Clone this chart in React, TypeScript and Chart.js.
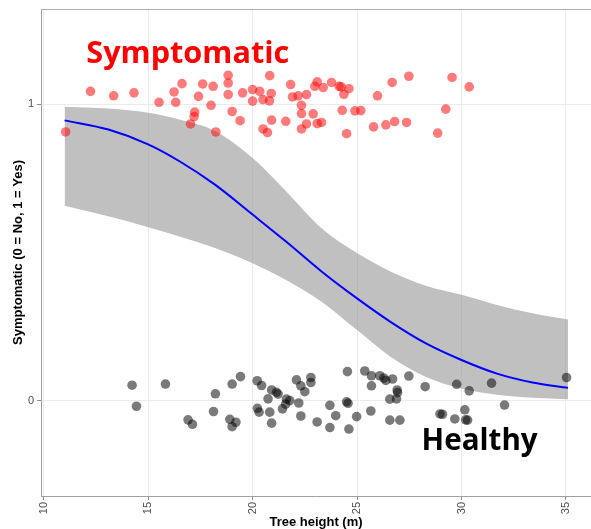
import React, { useEffect, useRef } from "react";
import { Chart, registerables } from "chart.js";

Chart.register(...registerables);

// ---- axis settings ----
const X_TICKS = [10, 15, 20, 25, 30, 35];
const Y_TICKS = [0, 1];
const X_MIN = 9.87;
const X_MAX = 36.2;
const Y_MIN = -0.322;
const Y_MAX = 1.322;

// ---- symptomatic trees (jittered around 1) ----
const SYMPTOMATIC_X = [
  11.05, 12.24, 13.35, 14.32, 15.52, 16.24, 16.32, 16.62, 17.23, 17.2,
  17.03, 17.41, 17.61, 18.11, 18.01, 18.24, 18.83, 18.83, 18.83, 19.02,
  19.4, 19.52, 20.0, 20.0, 20.34, 20.5, 20.82, 20.89, 20.81, 20.91,
  20.5, 20.71, 21.59, 21.82, 21.91, 22.18, 22.34, 22.34, 22.34, 22.58,
  22.58, 22.9, 22.98, 23.09, 23.09, 23.3, 23.38, 23.78, 24.14, 24.24,
  24.37, 24.61, 24.29, 24.9, 25.18, 24.5, 25.98, 26.68, 27.48, 25.79,
  26.38, 26.8, 27.37, 28.86, 29.25, 29.55, 30.37,
];
const SYMPTOMATIC_Y = [
  0.907, 1.044, 1.029, 1.039, 1.007, 1.042, 1.007, 1.07, 0.974, 0.959,
  0.934, 1.027, 1.069, 1.061, 0.997, 0.907, 1.098, 1.072, 1.033, 0.976,
  0.945, 1.039, 1.05, 1.011, 1.044, 1.016, 1.097, 1.037, 1.012, 0.947,
  0.917, 0.905, 0.943, 1.067, 1.025, 1.029, 0.997, 0.969, 0.917, 1.033,
  0.934, 0.968, 1.061, 1.076, 0.935, 0.939, 1.057, 1.074, 1.061, 1.059,
  1.034, 1.053, 0.98, 0.978, 0.979, 0.901, 1.029, 1.074, 1.095, 0.924,
  0.931, 0.942, 0.939, 0.903, 0.984, 1.091, 1.059,
];

// ---- healthy trees (jittered around 0) ----
const HEALTHY_X = [
  14.23, 14.44, 15.83, 16.91, 17.12, 18.13, 18.22, 18.91, 19.2, 19.02,
  19.02, 19.42, 20.22, 20.43, 20.23, 20.31, 20.74, 20.82, 20.91, 20.91,
  21.14, 21.22, 21.43, 21.58, 21.78, 21.62, 22.1, 22.31, 22.5, 22.21,
  22.31, 22.79, 22.79, 23.09, 23.7, 23.98, 23.7, 24.54, 24.5, 24.57,
  24.61, 24.98, 25.37, 25.69, 25.69, 25.66, 26.09, 26.28, 26.38, 26.7,
  26.92, 26.94, 26.57, 26.89, 26.57, 27.05, 27.48, 28.26, 28.97, 29.09,
  29.77, 30.37, 30.16, 29.68, 30.2, 30.29, 31.44, 32.06, 35.03,
];
const HEALTHY_Y = [
  0.052, -0.019, 0.056, -0.065, -0.08, -0.037, 0.023, -0.063, -0.073, -0.088,
  0.056, 0.081, 0.067, 0.051, -0.026, -0.039, 0.006, -0.039, -0.076, 0.036,
  0.028, 0.022, -0.028, -0.012, 0.0, 0.005, 0.07, 0.05, 0.03, -0.008,
  -0.052, 0.078, 0.061, -0.072, -0.016, -0.051, -0.091, 0.098, -0.004, -0.009,
  -0.096, -0.054, 0.1, 0.084, 0.05, -0.035, 0.084, 0.076, 0.068, 0.073,
  0.036, 0.027, 0.005, 0.006, -0.066, -0.066, 0.083, 0.047, -0.045, -0.046,
  0.055, 0.033, -0.031, -0.062, -0.065, -0.066, 0.059, -0.015, 0.078,
];

// ---- fitted logistic curve and confidence band ----
const FIT_X = [11, 13.1, 15, 16.5, 18.2, 20, 21.6, 23.3, 25, 26.6, 28.3, 30, 31.7, 33.4, 35.1];
const FIT_Y = [0.946, 0.915, 0.865, 0.808, 0.729, 0.628, 0.537, 0.436, 0.345, 0.266, 0.193, 0.137, 0.091, 0.061, 0.043];
const FIT_HI = [0.992, 0.986, 0.972, 0.949, 0.91, 0.819, 0.707, 0.582, 0.498, 0.436, 0.388, 0.357, 0.323, 0.295, 0.274];
const FIT_LO = [0.658, 0.622, 0.585, 0.554, 0.515, 0.464, 0.407, 0.334, 0.238, 0.148, 0.08, 0.041, 0.02, 0.01, 0.005];

// ---- texts ----
const X_TITLE = "Tree height (m)";
const Y_TITLE = "Symptomatic (0 = No, 1 = Yes)";
const LABEL_SYMPTOMATIC = { text: "Symptomatic", x: 12.04, y: 1.14, width: 9.72, color: "#ff0000" };
const LABEL_HEALTHY = { text: "Healthy", x: 28.09, y: -0.167, width: 5.56, color: "#000000" };

const AXIS_FONT = "'Liberation Sans', Arial, Helvetica, sans-serif";
const ANNOT_FONT = "'Open Sans', 'Noto Sans', sans-serif";

const pts = (xs: number[], ys: number[]) => xs.map((x, i) => ({ x, y: ys[i] }));

export default function App() {
  const ref = useRef<HTMLCanvasElement>(null);

  useEffect(() => {
    const canvas = ref.current;
    if (!canvas) return;

    const textPlugin = {
      id: "textPlugin",
      afterDraw(chart: any) {
        const { ctx, chartArea, scales } = chart;
        const xs = scales.x;
        const ys = scales.y;
        ctx.save();
        // top panel border
        ctx.strokeStyle = "#b0b0b0";
        ctx.lineWidth = 1;
        ctx.beginPath();
        ctx.moveTo(chartArea.left, Math.round(chartArea.top) + 0.5);
        ctx.lineTo(chartArea.right, Math.round(chartArea.top) + 0.5);
        ctx.stroke();

        // axis titles
        ctx.fillStyle = "#000000";
        ctx.font = `bold 13px ${AXIS_FONT}`;
        ctx.textAlign = "center";
        ctx.textBaseline = "alphabetic";
        ctx.fillText(X_TITLE, (chartArea.left + chartArea.right) / 2, chartArea.bottom + 30);
        ctx.save();
        ctx.translate(22, (chartArea.top + chartArea.bottom) / 2);
        ctx.rotate(-Math.PI / 2);
        ctx.fillText(Y_TITLE, 0, 0);
        ctx.restore();

        // annotation labels
        for (const lab of [LABEL_SYMPTOMATIC, LABEL_HEALTHY]) {
          const left = xs.getPixelForValue(lab.x);
          const right = xs.getPixelForValue(lab.x + lab.width);
          const base = ys.getPixelForValue(lab.y);
          ctx.font = `700 100px ${ANNOT_FONT}`;
          const w100 = ctx.measureText(lab.text).width;
          const size = (100 * (right - left)) / w100;
          ctx.font = `700 ${size}px ${ANNOT_FONT}`;
          ctx.textAlign = "left";
          ctx.fillStyle = lab.color;
          ctx.fillText(lab.text, left, base);
        }
        ctx.restore();
      },
    };

    const chart = new Chart(canvas, {
      type: "scatter",
      data: {
        datasets: [
          {
            type: "scatter",
            data: pts(SYMPTOMATIC_X, SYMPTOMATIC_Y),
            backgroundColor: "rgba(255,0,0,0.52)",
            borderWidth: 0,
            pointRadius: 4.8,
          },
          {
            type: "scatter",
            data: pts(HEALTHY_X, HEALTHY_Y),
            backgroundColor: "rgba(0,0,0,0.52)",
            borderWidth: 0,
            pointRadius: 4.8,
          },
          {
            type: "line",
            data: pts(FIT_X, FIT_Y),
            borderColor: "#0000ff",
            borderWidth: 2,
            pointRadius: 0,
            cubicInterpolationMode: "monotone",
            fill: false,
          },
          {
            type: "line",
            data: pts(FIT_X, FIT_HI),
            borderWidth: 0,
            borderColor: "rgba(0,0,0,0)",
            pointRadius: 0,
            cubicInterpolationMode: "monotone",
            backgroundColor: "rgba(153,153,153,0.62)",
            fill: "+1",
          },
          {
            type: "line",
            data: pts(FIT_X, FIT_LO),
            borderWidth: 0,
            borderColor: "rgba(0,0,0,0)",
            pointRadius: 0,
            cubicInterpolationMode: "monotone",
            fill: false,
          },
        ],
      } as any,
      options: {
        animation: false,
        responsive: false,
        maintainAspectRatio: false,
        events: [],
        layout: { autoPadding: false, padding: { top: 9, left: 0, right: 0, bottom: 0 } },
        plugins: {
          legend: { display: false },
          tooltip: { enabled: false },
          title: { display: false },
        },
        scales: {
          x: {
            type: "linear",
            min: X_MIN,
            max: X_MAX,
            afterBuildTicks: (s: any) => {
              s.ticks = X_TICKS.map((v) => ({ value: v }));
            },
            afterFit: (s: any) => {
              s.height = 33;
              s.paddingLeft = 0;
              s.paddingRight = 0;
            },
            ticks: {
              autoSkip: false,
              minRotation: 90,
              maxRotation: 90,
              padding: 2,
              color: "#4d4d4d",
              font: { family: AXIS_FONT, size: 11 },
            },
            grid: { color: "#ebebeb", tickColor: "#8c8c8c", tickLength: 4, lineWidth: 1 },
            border: { color: "#a0a0a0", width: 1 },
          },
          y: {
            type: "linear",
            min: Y_MIN,
            max: Y_MAX,
            afterBuildTicks: (s: any) => {
              s.ticks = Y_TICKS.map((v) => ({ value: v }));
            },
            afterFit: (s: any) => {
              s.width = 41;
              s.paddingTop = 0;
              s.paddingBottom = 0;
            },
            ticks: {
              padding: 3,
              color: "#4d4d4d",
              font: { family: AXIS_FONT, size: 11 },
            },
            grid: { color: "#ebebeb", tickColor: "#8c8c8c", tickLength: 4, lineWidth: 1 },
            border: { color: "#a0a0a0", width: 1 },
          },
        },
      } as any,
      plugins: [textPlugin],
    });

    return () => chart.destroy();
  }, []);

  return (
    <div style={{ position: "fixed", left: 0, top: 0, width: 591, height: 529, background: "#ffffff" }}>
      <canvas ref={ref} width={591} height={529} style={{ display: "block" }} />
    </div>
  );
}
